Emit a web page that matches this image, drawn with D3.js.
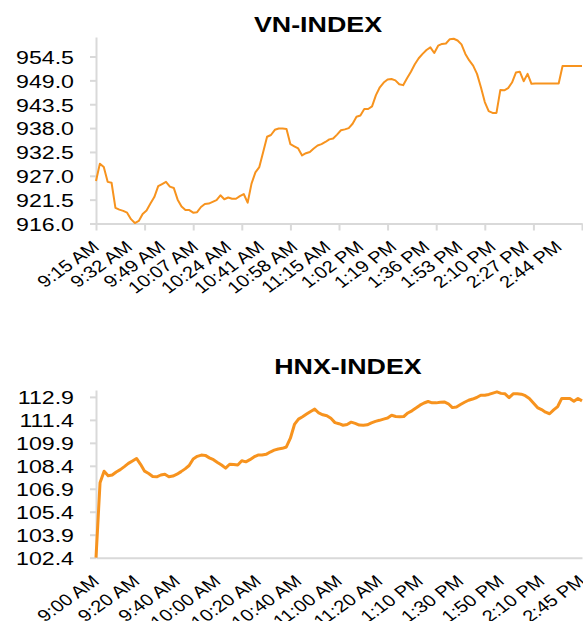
<!DOCTYPE html>
<html>
<head>
<meta charset="utf-8">
<script src="https://cdn.jsdelivr.net/npm/d3@7"></script>
<style>
	body { margin: 0; background: #fff; }
	text { font-family: "Liberation Sans", Arial, sans-serif; fill: #000; }
</style>
</head>
<body>
<div id="main"></div>
<script>
var WIDTH = 583, HEIGHT = 621;
var SX = 1.22;	// the chart text is a bit wide

// VN-INDEX, one value every 2 minutes of trading
var vnTicks = [916.0, 921.5, 927.0, 932.5, 938.0, 943.5, 949.0, 954.5];
var vnLabels = ["9:15 AM", "9:32 AM", "9:49 AM", "10:07 AM", "10:24 AM", "10:41 AM", "10:58 AM", "11:15 AM",
	"1:02 PM", "1:19 PM", "1:36 PM", "1:53 PM", "2:10 PM", "2:27 PM", "2:44 PM"];
var vnValues = [925.8, 929.8, 929.0, 925.6, 925.4, 919.6, 919.2, 918.9, 918.5, 917.0,
	916.1, 916.6, 918.2, 919.0, 920.6, 922.1, 924.6, 925.1, 925.6, 924.5,
	924.2, 921.5, 919.9, 919.1, 919.1, 918.5, 918.6, 919.8, 920.5, 920.6,
	921.0, 921.4, 922.5, 921.6, 922.0, 921.7, 921.7, 922.3, 922.8, 920.8,
	925.2, 927.8, 929.0, 932.5, 936.0, 936.4, 937.6, 937.9, 937.9, 937.8,
	934.3, 933.8, 933.3, 931.7, 932.2, 932.5, 933.3, 934.0, 934.3, 934.8,
	935.4, 935.6, 936.5, 937.5, 937.7, 938.0, 939.0, 940.6, 940.9, 942.4,
	942.4, 943.0, 945.6, 947.4, 948.5, 949.2, 949.3, 949.0, 948.1, 947.9,
	949.5, 951.0, 952.7, 954.1, 955.1, 956.0, 956.6, 955.3, 957.0, 957.4,
	957.5, 958.5, 958.6, 958.2, 957.3, 955.1, 953.6, 952.4, 950.5, 947.4,
	944.0, 941.9, 941.5, 941.5, 946.8, 946.7, 947.2, 948.5, 950.8, 951.0,
	948.8, 950.5, 948.2, 948.3, 948.3, 948.3, 948.3, 948.3, 948.3, 948.3,
	952.3, 952.3, 952.3, 952.3, 952.3, 952.3];

// HNX-INDEX, one value every 2 minutes
var hnxTicks = [102.4, 103.9, 105.4, 106.9, 108.4, 109.9, 111.4, 112.9];
var hnxLabels = ["9:00 AM", "9:20 AM", "9:40 AM", "10:00 AM", "10:20 AM", "10:40 AM", "11:00 AM", "11:20 AM",
	"1:10 PM", "1:30 PM", "1:50 PM", "2:10 PM", "2:45 PM"];
var hnxValues = [102.4, 107.3, 108.05, 107.75, 107.8, 108.0, 108.15, 108.35, 108.56, 108.72,
	108.88, 108.5, 108.05, 107.9, 107.7, 107.68, 107.8, 107.85, 107.68, 107.73,
	107.85, 108.02, 108.2, 108.42, 108.85, 109.02, 109.1, 109.08, 108.92, 108.8,
	108.62, 108.45, 108.25, 108.5, 108.48, 108.45, 108.73, 108.66, 108.8, 108.98,
	109.1, 109.1, 109.15, 109.3, 109.42, 109.5, 109.54, 109.63, 110.2, 111.1,
	111.45, 111.6, 111.78, 111.95, 112.1, 111.85, 111.73, 111.67, 111.5, 111.22,
	111.15, 111.05, 111.1, 111.25, 111.17, 111.06, 111.05, 111.08, 111.2, 111.3,
	111.37, 111.45, 111.52, 111.7, 111.62, 111.6, 111.62, 111.85, 111.99, 112.17,
	112.36, 112.5, 112.6, 112.51, 112.51, 112.55, 112.57, 112.45, 112.2, 112.24,
	112.4, 112.55, 112.68, 112.76, 112.86, 113.01, 113.01, 113.06, 113.15, 113.23,
	113.13, 113.1, 112.85, 113.1, 113.11, 113.08, 112.98, 112.8, 112.5, 112.2,
	112.07, 111.9, 111.8, 112.05, 112.27, 112.8, 112.8, 112.8, 112.62, 112.8,
	112.64];

var canvas;

function createCanvas() {
	canvas = d3.select("#main").append("svg")
		.attr("id", "canvas")
		.attr("width", WIDTH)
		.attr("height", HEIGHT);
}

function drawPanel(p) {
	var x = d3.scaleLinear().domain([0, p.values.length - 1]).range([96, 582]);
	var y = d3.scaleLinear().domain(p.domain).range([p.bottom, p.top]);
	var g = canvas.append("g");

	g.append("text")
		.attr("text-anchor", "middle")
		.attr("font-weight", "bold")
		.attr("font-size", 22)
		.attr("transform", "translate(" + p.titleX + "," + p.titleY + ") scale(" + SX + ",1)")
		.text(p.title);

	// y axis
	var yg = g.append("g")
		.attr("transform", "translate(96,0)")
		.call(d3.axisLeft(y).tickValues(p.ticks).tickSize(6).tickSizeOuter(0).tickFormat(d3.format(".1f")));
	yg.selectAll("text")
		.attr("x", 0)
		.attr("dy", "0.36em")
		.attr("font-size", 19)
		.attr("transform", "translate(-22,0) scale(" + SX + ",1)");

	// x axis: tick marks and labels sit at different steps
	var tickIdx = d3.range(0, p.values.length, p.tickStep);
	var xg = g.append("g")
		.attr("transform", "translate(0," + p.bottom + ")")
		.call(d3.axisBottom(x).tickValues(tickIdx).tickSize(p.tickLen).tickSizeOuter(0).tickFormat(""));

	var labelIdx = p.labels.map(function(d, i) { return i * p.labelStep; });
	var lg = g.append("g")
		.attr("transform", "translate(0," + p.bottom + ")")
		.call(d3.axisBottom(x).tickValues(labelIdx).tickSize(0)
			.tickFormat(function(d, i) { return p.labels[i]; }));
	lg.select(".domain").remove();
	lg.selectAll("text")
		.attr("y", 0)
		.attr("dy", 0)
		.attr("text-anchor", "end")
		.attr("font-size", 16.5)
		.attr("transform", "translate(4,25) scale(" + SX + ",1) rotate(-41)");

	g.selectAll(".domain, .tick line")
		.attr("stroke", "#d9d9d9")
		.attr("stroke-width", 2);

	var line = d3.line()
		.x(function(d, i) { return x(i); })
		.y(function(d) { return y(d); });

	g.append("path")
		.datum(p.values)
		.attr("fill", "none")
		.attr("stroke", "#f7931e")
		.attr("stroke-width", p.lineWidth)
		.attr("stroke-linejoin", "round")
		.attr("d", line);
}

createCanvas();

drawPanel({
	title: "VN-INDEX", titleX: 318, titleY: 32,
	values: vnValues, ticks: vnTicks, labels: vnLabels,
	domain: [916, 959], top: 37, bottom: 223.5,
	tickStep: 12.5, labelStep: 8.5, tickLen: 7, lineWidth: 2
});

drawPanel({
	title: "HNX-INDEX", titleX: 348, titleY: 374,
	values: hnxValues, ticks: hnxTicks, labels: hnxLabels,
	domain: [102.4, 113.35], top: 390, bottom: 557.7,
	tickStep: 1000, labelStep: 10, tickLen: 0, lineWidth: 3
});
</script>
</body>
</html>
